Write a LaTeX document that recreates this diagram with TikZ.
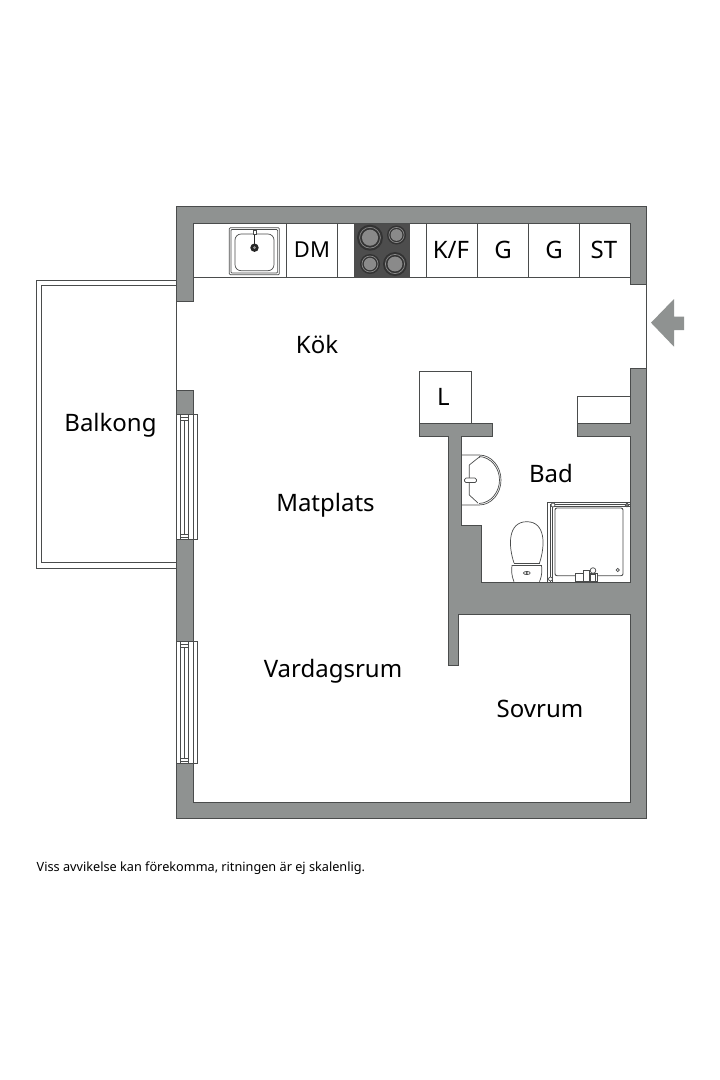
\documentclass[tikz,border=0pt]{standalone}
\usepackage{fontspec}
\setmainfont{Noto Sans}
\definecolor{wallc}{HTML}{8F9291}
\definecolor{linec}{HTML}{4A4C4C}
\definecolor{stovec}{HTML}{4D4D4D}
\definecolor{burnerc}{HTML}{8A8A8A}
\tikzset{
 wall/.style={fill=wallc,draw=linec,line width=1pt,line join=miter},
 thin/.style={draw=linec,line width=1pt},
 fine/.style={draw=linec,line width=.7pt},
 room/.style={font=\fontsize{24}{24}\selectfont,text=black,inner sep=0pt,anchor=center},
 cab/.style={font=\fontsize{24}{24}\selectfont,text=black,inner sep=0pt,anchor=center},
}
\newcommand{\burnerat}[3]{%
 \fill[black!80] (#1,#2) circle (#3);
 \draw[draw=burnerc,line width=.7pt] (#1,#2) circle ({#3*0.8});
 \fill[burnerc] (#1,#2) circle ({#3*0.62});
}
\newcommand{\windowat}[2]{%
 \draw[thin,fill=white] (176.5,#1-0.5) rectangle (197.7,#2+0.5);
 \draw[fine] (193,#1) -- (193,#2);
 \draw[fine] (180,#1) -- (180,#2);
 \draw[fine] (188,#1) -- (188,#2);
 \draw[fine] (184,#1+5) -- (184,#2-5);
 \draw[fine] (180,#1+2) -- (188,#1+2);
 \draw[fine] (180,#1+5) -- (188,#1+5);
 \draw[fine] (180,#2-2) -- (188,#2-2);
 \draw[fine] (180,#2-5) -- (188,#2-5);
}
\begin{document}
\begin{tikzpicture}[x=1pt,y=-1pt]
\useasboundingbox (0,0) rectangle (720,1080);
\fill[white] (0,0) rectangle (720,1080);
% balcony
\draw[thin] (176.5,280) -- (36.7,280) -- (36.7,568.3) -- (176.5,568.3);
\draw[thin] (176.5,285) -- (41.5,285) -- (41.5,562.7) -- (176.5,562.7);
% outer thin lines at openings
\draw[thin] (176.5,301) -- (176.5,390);
\draw[thin] (646,284) -- (646,368);
% counter
\draw[thin] (193,277.7) -- (630,277.7);
\foreach \cx in {286.5,337.5,426,477,528,579} \draw[thin] (\cx,223) -- (\cx,277.7);
% stove
\fill[stovec] (354,223) rectangle (409.5,278);
\burnerat{370}{237.7}{13}
\burnerat{396.5}{235}{9.5}
\burnerat{370}{264}{10}
\burnerat{395}{264}{12}
% kitchen sink
\draw[fine,rounded corners=1pt] (229.3,227.7) rectangle (279.3,274.7);
\draw[fine,rounded corners=1pt] (231,229.4) rectangle (277.6,273);
\draw[fine,rounded corners=6pt] (235,234) rectangle (274,270.7);
\draw[black!85,line width=1.8pt] (254.5,233) -- (254.5,247);
\draw[fine,fill=white] (253,230.5) rectangle (256,234);
\fill[black!85] (254.5,247.7) circle (4.2);
\fill[white!60!black] (254.5,247.7) circle (1.5);
% walls
\draw[wall] (176.5,206.5) -- (646,206.5) -- (646,284) -- (630,284) -- (630,223) -- (193,223) -- (193,301) -- (176.5,301) -- cycle;
\draw[wall] (176.5,390) rectangle (193,415);
\draw[wall] (176.5,539) rectangle (193,642);
\draw[wall] (646,368) -- (646,818) -- (176.5,818) -- (176.5,763) -- (193,763) -- (193,802) -- (630,802) -- (630,614) -- (458,614) -- (458,665) -- (448,665) -- (448,436) -- (419,436) -- (419,423) -- (492,423) -- (492,436) -- (461,436) -- (461,525) -- (481,525) -- (481,582) -- (630,582) -- (630,436) -- (577,436) -- (577,423) -- (630,423) -- (630,368) -- cycle;
% windows
\windowat{415}{539}
\windowat{642}{763}
% L box and shelf
\draw[thin] (419,423) -- (419,371.7) -- (471,371.7) -- (471,423);
\draw[thin] (630,396) -- (577,396) -- (577,423);
% entry arrow
\fill[wallc] (651,322.7) -- (674,299) -- (674,316.7) -- (684,316.7) -- (684,330) -- (674,330) -- (674,346.7) -- cycle;
% bath sink
\draw[fine] (461,455) -- (479,455) .. controls (492,455) and (501,467) .. (501,480) .. controls (501,493) and (492,505) .. (479,505) -- (461,505);
\draw[fine] (479,456.5) .. controls (491,457) and (499.5,468) .. (499.5,480) .. controls (499.5,492) and (491,503) .. (479,503.5);
\draw[fine] (469.3,465) -- (469.3,495) -- (478,503) (469.3,465) -- (478,458) -- (480,457);
\draw[fine,rounded corners=1.5pt,fill=white] (464.5,478) rectangle (476.5,482.5);
% toilet
\draw[fine] (514,581.7) .. controls (511,574) and (511.5,570) .. (512,565.5) -- (541.5,565.5) .. controls (542,570) and (542.5,574) .. (539.5,581.7);
\draw[fine] (514,563) .. controls (508,545) and (508,521.7) .. (526.8,521.7) .. controls (545.5,521.7) and (545.5,545) .. (539.5,563);
\draw[fine] (514,563) -- (539.5,563);
\draw[fine] (526.8,573) ellipse (3.4 and 1.6);
\fill[black!70] (526.8,573) circle (1.1);
% shower
\draw[fine] (547.7,582) -- (547.7,502) -- (630,502);
\draw[fine] (550,582) -- (550,504) -- (630,504);
\draw[fine] (552,582) -- (552,506.5) -- (630,506.5);
\draw[thin,rounded corners=2pt,line width=.9pt] (555,508) rectangle (623,575.7);
\draw[fine] (617.7,570) circle (1.6);
\draw[fine,fill=white] (553,505) circle (2);
\draw[fine,fill=black!50] (627,505) circle (1.8);
\draw[fine,fill=white] (550.5,579) circle (2);
\draw[fine,fill=white] (575.5,573) rectangle (597.5,581.7);
\draw[fine,fill=white] (583,570.5) rectangle (589,581.7);
\draw[fine,fill=white] (593,570.5) circle (2.8);
\draw[fine,fill=white] (590,574) rectangle (595,581.7);
% labels
\node[room] (kok) at (317,344) {Kök};
\node[room] (matplats) at (325.5,505.5) {Matplats};
\node[room] (vardagsrum) at (333,671.5) {Vardagsrum};
\node[room] (sovrum) at (540,708.5) {Sovrum};
\node[room] (bad) at (551,473) {Bad};
\node[room] (balkong) at (110.5,425.5) {Balkong};
\node[cab,font=\fontsize{22}{22}\selectfont] (dm) at (312,250) {DM};
\node[cab] (kf) at (451,250) {K/F};
\node[cab] (g1) at (503,250) {G};
\node[cab] (g2) at (554,250) {G};
\node[cab] (st) at (604,250) {ST};
\node[cab] (l) at (443.5,397) {L};
\node[font=\fontsize{12.7}{14}\selectfont,text=black,inner sep=0pt,anchor=base west] (note) at (36.5,871) {Viss avvikelse kan förekomma, ritningen är ej skalenlig.};
\end{tikzpicture}
\end{document}
